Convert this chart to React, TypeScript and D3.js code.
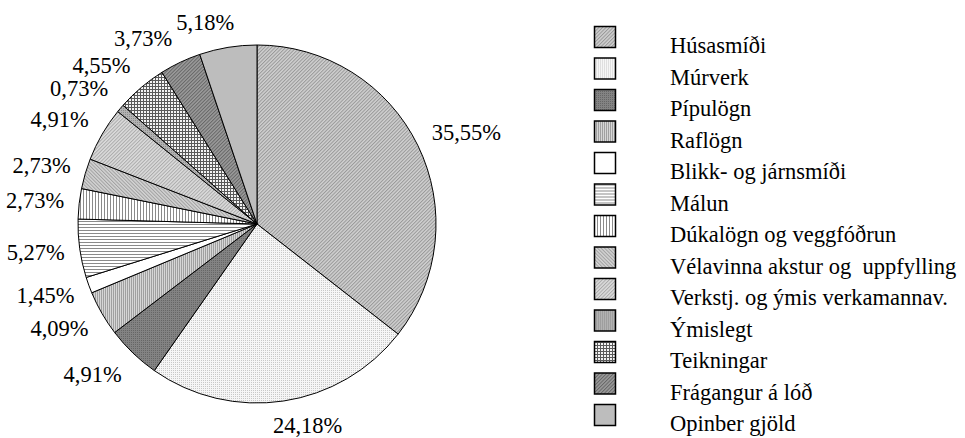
import React, { useEffect, useRef } from "react";
import * as d3 from "d3";

// Kostnaðarskipting (%)
const categories = [
  "Húsasmíði",
  "Múrverk",
  "Pípulögn",
  "Raflögn",
  "Blikk- og járnsmíði",
  "Málun",
  "Dúkalögn og veggfóðrun",
  "Vélavinna akstur og  uppfylling",
  "Verkstj. og ýmis verkamannav.",
  "Ýmislegt",
  "Teikningar",
  "Frágangur á lóð",
  "Opinber gjöld",
];
const values = [35.55, 24.18, 4.91, 4.09, 1.45, 5.27, 2.73, 2.73, 4.91, 0.73, 4.55, 3.73, 5.18];

type Pat = { bg: string; fg?: string; kind: "solid" | "diag" | "back" | "vert" | "horiz" | "dots" | "grid"; step?: number };

// fill patterns, one per category (Excel-like hatches)
const patterns: Pat[] = [
  { kind: "diag", bg: "#d0d0d0", fg: "#989898", step: 2.5 },
  { kind: "dots", bg: "#f6f6f6", fg: "#c8c8c8", step: 2 },
  { kind: "dots", bg: "#838383", fg: "#666666", step: 2 },
  { kind: "vert", bg: "#d6d6d6", fg: "#a0a0a0", step: 2 },
  { kind: "solid", bg: "#ffffff" },
  { kind: "horiz", bg: "#ffffff", fg: "#8a8a8a", step: 3 },
  { kind: "vert", bg: "#ffffff", fg: "#8a8a8a", step: 3 },
  { kind: "back", bg: "#d4d4d4", fg: "#a0a0a0", step: 2.5 },
  { kind: "diag", bg: "#dcdcdc", fg: "#aaaaaa", step: 2.5 },
  { kind: "dots", bg: "#b2b2b2", fg: "#8a8a8a", step: 2 },
  { kind: "grid", bg: "#f4f4f4", fg: "#5a5a5a", step: 3 },
  { kind: "diag", bg: "#9c9c9c", fg: "#666666", step: 2.5 },
  { kind: "solid", bg: "#bdbdbd" },
];

export default function App() {
  const ref = useRef<SVGSVGElement | null>(null);

  useEffect(() => {
    const width = 965;
    const height = 438;
    const cx = 257,
      cy = 224,
      radius = 179;
    const font = "Liberation Serif, Times New Roman, DejaVu Serif, serif";
    const fontSize = 22.5;

    const svg = d3.select(ref.current);
    svg.selectAll("*").remove();
    svg.attr("width", width).attr("height", height).attr("viewBox", `0 0 ${width} ${height}`);

    // patterns
    const defs = svg.append("defs");
    patterns.forEach((p, i) => {
      const s = p.step || 3;
      const pat = defs
        .append("pattern")
        .attr("id", `pat${i}`)
        .attr("patternUnits", "userSpaceOnUse")
        .attr("width", s)
        .attr("height", s);
      if (p.kind === "diag") pat.attr("patternTransform", "rotate(45)");
      if (p.kind === "back") pat.attr("patternTransform", "rotate(-45)");
      pat.append("rect").attr("width", s).attr("height", s).attr("fill", p.bg);
      if (p.kind === "diag" || p.kind === "back" || p.kind === "vert") {
        pat.append("rect").attr("width", 1).attr("height", s).attr("fill", p.fg!);
      } else if (p.kind === "horiz") {
        pat.append("rect").attr("width", s).attr("height", 1).attr("fill", p.fg!);
      } else if (p.kind === "dots") {
        pat.append("rect").attr("width", 1).attr("height", 1).attr("fill", p.fg!);
      } else if (p.kind === "grid") {
        pat.append("rect").attr("width", s).attr("height", 1).attr("fill", p.fg!);
        pat.append("rect").attr("width", 1).attr("height", s).attr("fill", p.fg!);
      }
    });

    const pie = d3
      .pie<number>()
      .sort(null)
      .value((d) => d);
    const arcs = pie(values);
    const arc = d3.arc<d3.PieArcDatum<number>>().innerRadius(0).outerRadius(radius);

    const g = svg.append("g").attr("transform", `translate(${cx},${cy})`);
    g.selectAll("path")
      .data(arcs)
      .join("path")
      .attr("d", arc)
      .attr("fill", (_, i) => `url(#pat${i})`)
      .attr("stroke", "#000")
      .attr("stroke-width", 1)
      .attr("stroke-linejoin", "round");

    // data labels, placed just outside the rim (box pushed outward like Excel)
    const fmt = (v: number) => d3.format(".2f")(v).replace(".", ",") + "%";
    const boxH = 26;
    const gap = 12;
    const labels = g
      .append("g")
      .style("font-family", font)
      .style("font-size", `${fontSize}px`)
      .attr("text-anchor", "middle")
      .selectAll("text")
      .data(arcs)
      .join("text")
      .attr("dy", "0.33em")
      .text((d) => fmt(d.data));
    labels.each(function (d) {
      const el = this as SVGTextElement;
      const w = el.getComputedTextLength() + 6;
      const a = (d.startAngle + d.endAngle) / 2;
      const sx = Math.sin(a),
        sy = -Math.cos(a);
      const px = Math.sign(sx) * Math.min(1, Math.abs(sx) * 4);
      const py = Math.sign(sy) * Math.min(1, Math.abs(sy) * 1.4);
      const x = (radius + gap) * sx + (w / 2) * px;
      const y = (radius + gap) * sy + (boxH / 2) * py;
      d3.select(el).attr("x", x).attr("y", y);
    });

    // legend
    const rowH = 31.5;
    const leg = svg
      .append("g")
      .style("font-family", font)
      .style("font-size", `${fontSize}px`)
      .selectAll("g")
      .data(categories)
      .join("g")
      .attr("transform", (_, i) => `translate(0,${i * rowH})`);
    leg
      .append("rect")
      .attr("x", 594.5)
      .attr("y", 26.5)
      .attr("width", 21)
      .attr("height", 21)
      .attr("fill", (_, i) => `url(#pat${i})`)
      .attr("stroke", "#000")
      .attr("stroke-width", 1.5);
    leg
      .append("text")
      .attr("x", 670)
      .attr("y", 53)
      .style("white-space", "pre")
      .text((d) => d);
  }, []);

  return (
    <div style={{ position: "absolute", left: 0, top: 0, background: "#fff" }}>
      <svg ref={ref} style={{ display: "block" }} />
    </div>
  );
}
